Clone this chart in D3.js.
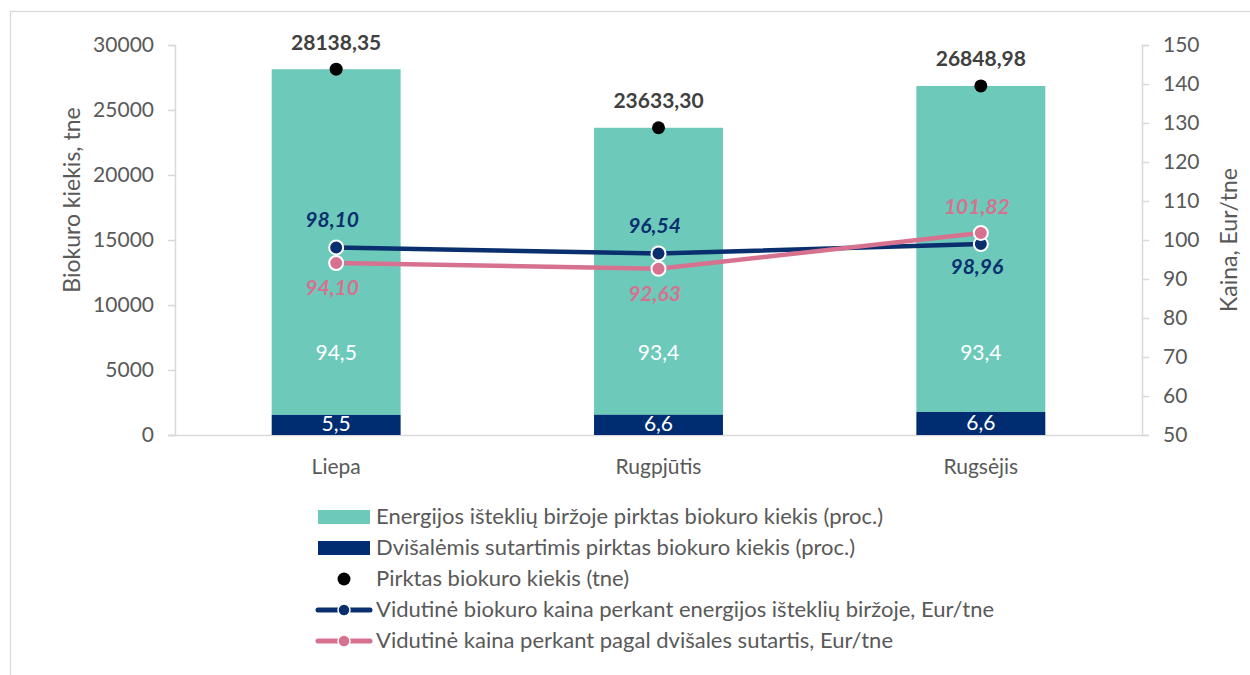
<!DOCTYPE html>
<html>
<head>
<meta charset="utf-8">
<script src="https://cdn.jsdelivr.net/npm/d3@7/dist/d3.min.js"></script>
<style>
  body { margin: 0; background: #fff; }
  svg { display: block; font-family: Lato, "Noto Sans", sans-serif; }
</style>
</head>
<body>
<svg id="chart" width="1250" height="675"></svg>
<script>
// ---- data ----
const categories = ["Liepa", "Rugpjūtis", "Rugsėjis"];
const totalTonnes = [28138.35, 23633.30, 26848.98];
const totalLabels = ["28138,35", "23633,30", "26848,98"];
const exchangePct = [94.5, 93.4, 93.4];
const bilateralPct = [5.5, 6.6, 6.6];
const exchangePctLabels = ["94,5", "93,4", "93,4"];
const bilateralPctLabels = ["5,5", "6,6", "6,6"];
const exchangePrice = [98.10, 96.54, 98.96];
const exchangePriceLabels = ["98,10", "96,54", "98,96"];
const bilateralPrice = [94.10, 92.63, 101.82];
const bilateralPriceLabels = ["94,10", "92,63", "101,82"];
const leftTicks = [0, 5000, 10000, 15000, 20000, 25000, 30000];
const rightTicks = [50, 60, 70, 80, 90, 100, 110, 120, 130, 140, 150];
const legendLabels = [
  "Energijos išteklių biržoje pirktas biokuro kiekis (proc.)",
  "Dvišalėmis sutartimis pirktas biokuro kiekis (proc.)",
  "Pirktas biokuro kiekis (tne)",
  "Vidutinė biokuro kaina perkant energijos išteklių biržoje, Eur/tne",
  "Vidutinė kaina perkant pagal dvišales sutartis, Eur/tne"
];

// ---- styles ----
const C = {
  teal: "#6dcabb", navy: "#002d72", blueLine: "#0a2f6e", pink: "#d6728f",
  axis: "#d9d9d9", text: "#595959", dark: "#404040"
};

const svg = d3.select("#chart");

// chart border
svg.append("rect").attr("x", 10.5).attr("y", 11.5).attr("width", 1300).attr("height", 700)
  .attr("fill", "none").attr("stroke", C.axis).attr("stroke-width", 1.3);

const x = d3.scaleBand().domain(categories).range([175, 1142]).paddingInner(0.6).paddingOuter(0.3);
const yL = d3.scaleLinear().domain([0, 30000]).range([435, 45]);
const yR = d3.scaleLinear().domain([50, 150]).range([435, 45]);

// axes
const axL = svg.append("g").attr("transform", "translate(175,0)")
  .call(d3.axisLeft(yL).tickValues(leftTicks).tickSize(7).tickPadding(14).tickFormat(d3.format("d")));
const axR = svg.append("g").attr("transform", "translate(1142,0)")
  .call(d3.axisRight(yR).tickValues(rightTicks).tickSize(7).tickPadding(14).tickFormat(d3.format("d")));
const axB = svg.append("g").attr("transform", "translate(0,435)")
  .call(d3.axisBottom(x).tickSize(0).tickPadding(24));
[axL, axR, axB].forEach(g => {
  g.selectAll("path.domain").attr("stroke", C.axis).attr("stroke-width", 1.5);
  g.selectAll(".tick line").attr("stroke", C.axis).attr("stroke-width", 1.5);
  g.selectAll("text").attr("fill", C.text).style("font-size", "21px").style("font-family", "Lato");
});
axB.select("path.domain").attr("d", "M168,0.5H1142");

// axis titles
svg.append("text").attr("transform", "translate(80,200) rotate(-90)").attr("text-anchor", "middle")
  .attr("fill", C.text).style("font-size", "23px").text("Biokuro kiekis, tne");
svg.append("text").attr("transform", "translate(1237,240) rotate(-90)").attr("text-anchor", "middle")
  .attr("fill", C.text).style("font-size", "23px").text("Kaina, Eur/tne");

// stacked bars (tonnes split by percentage)
const bars = categories.map((c, i) => {
  const b = totalTonnes[i] * bilateralPct[i] / 100;
  return { c, i, b, t: totalTonnes[i] };
});
const gB = svg.append("g");
gB.selectAll("rect.teal").data(bars).join("rect")
  .attr("x", d => x(d.c)).attr("width", x.bandwidth())
  .attr("y", d => yL(d.t)).attr("height", d => yL(d.b) - yL(d.t)).attr("fill", C.teal);
gB.selectAll("rect.navy").data(bars).join("rect")
  .attr("x", d => x(d.c)).attr("width", x.bandwidth())
  .attr("y", d => yL(d.b)).attr("height", d => yL(0) - yL(d.b)).attr("fill", C.navy);
gB.selectAll("text.navyLab").data(bars).join("text")
  .attr("x", d => x(d.c) + x.bandwidth() / 2).attr("y", d => (yL(d.b) + yL(0)) / 2 + 1)
  .attr("text-anchor", "middle").attr("dominant-baseline", "middle")
  .attr("fill", "#fff").style("font-size", "21px").text(d => bilateralPctLabels[d.i]);
const tealLabelLevel = 6150;
gB.selectAll("text.tealLab").data(bars).join("text")
  .attr("x", d => x(d.c) + x.bandwidth() / 2).attr("y", yL(tealLabelLevel))
  .attr("text-anchor", "middle").attr("dominant-baseline", "middle")
  .attr("fill", "#fff").style("font-size", "21px").text(d => exchangePctLabels[d.i]);

// total dots
const cx = c => x(c) + x.bandwidth() / 2;
svg.append("g").selectAll("circle").data(bars).join("circle")
  .attr("cx", d => cx(d.c)).attr("cy", d => yL(d.t)).attr("r", 6.5).attr("fill", "#000");
svg.append("g").selectAll("text").data(bars).join("text")
  .attr("x", d => cx(d.c)).attr("y", d => yL(d.t) - 25)
  .attr("text-anchor", "middle").attr("dominant-baseline", "middle")
  .attr("fill", C.dark).style("font-size", "21px").style("font-weight", "bold")
  .text(d => totalLabels[d.i]);

// price lines
function drawLine(vals, labels, color, offsets) {
  const pts = categories.map((c, i) => [cx(c), yR(vals[i])]);
  svg.append("path").attr("d", d3.line()(pts)).attr("fill", "none")
    .attr("stroke", color).attr("stroke-width", 4.5).attr("stroke-linejoin", "round");
  return { pts, color, labels, offsets };
}
const L1 = drawLine(exchangePrice, exchangePriceLabels, C.blueLine, [-26, -26, 25]);
const L2 = drawLine(bilateralPrice, bilateralPriceLabels, C.pink, [27, 27, -24]);
[L1, L2].forEach(L => {
  svg.append("g").selectAll("circle").data(L.pts).join("circle")
    .attr("cx", d => d[0]).attr("cy", d => d[1]).attr("r", 7)
    .attr("fill", L.color).attr("stroke", "#fff").attr("stroke-width", 2);
});
[L1, L2].forEach(L => {
  svg.append("g").selectAll("text").data(L.pts).join("text")
    .attr("x", d => d[0] - 4).attr("y", (d, i) => d[1] + L.offsets[i])
    .attr("text-anchor", "middle").attr("dominant-baseline", "middle")
    .attr("fill", L.color).style("font-size", "21px").style("font-weight", "bold").style("font-style", "italic")
    .text((d, i) => L.labels[i]);
});

// legend
const legY = d3.scaleLinear().domain([0, 4]).range([517, 641]);
const lg = svg.append("g");
lg.append("rect").attr("x", 318).attr("y", legY(0) - 7).attr("width", 52).attr("height", 14).attr("fill", C.teal);
lg.append("rect").attr("x", 318).attr("y", legY(1) - 7).attr("width", 52).attr("height", 14).attr("fill", C.navy);
lg.append("circle").attr("cx", 344).attr("cy", legY(2)).attr("r", 6.5).attr("fill", "#000");
[[3, C.blueLine], [4, C.pink]].forEach(([k, col]) => {
  lg.append("line").attr("x1", 318).attr("x2", 370).attr("y1", legY(k)).attr("y2", legY(k))
    .attr("stroke", col).attr("stroke-width", 5).attr("stroke-linecap", "round");
  lg.append("circle").attr("cx", 344).attr("cy", legY(k)).attr("r", 6)
    .attr("fill", col).attr("stroke", "#fff").attr("stroke-width", 1.5);
});
lg.selectAll("text").data(legendLabels).join("text")
  .attr("x", 376).attr("y", (d, i) => legY(i) + 1).attr("dominant-baseline", "middle")
  .attr("fill", C.text).style("font-size", "22px").text(d => d);
</script>
</body>
</html>
